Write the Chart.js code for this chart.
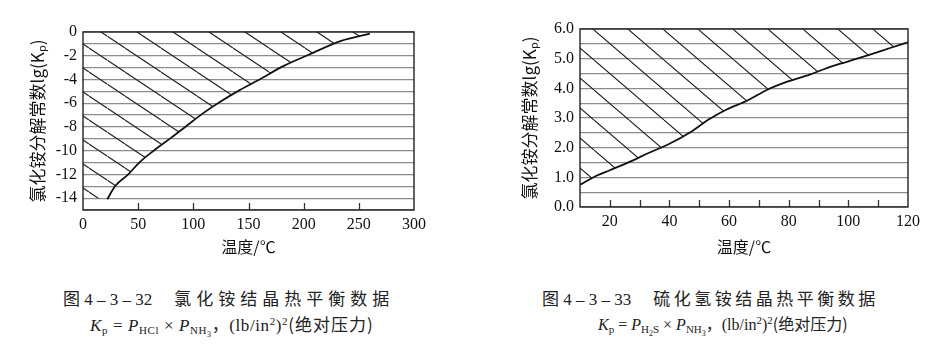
<!DOCTYPE html>
<html><head><meta charset="utf-8">
<script src="https://cdn.jsdelivr.net/npm/chart.js@4.4.0/dist/chart.umd.min.js"></script>
<style>
body{margin:0;background:#fff;width:951px;height:352px;position:relative;overflow:hidden}
.box{position:absolute;top:0}
.cap{position:absolute;white-space:nowrap;color:#222;font-family:"Liberation Serif","Noto Sans CJK SC",serif;line-height:1}
.cap sub{font-size:11px;vertical-align:-3px}
.cap sup{font-size:11px;vertical-align:6px}
.cj{font-family:"Noto Sans CJK SC",sans-serif}
</style></head><body>
<div class="box" style="left:0"><canvas id="c1" width="440" height="260"></canvas></div>
<div class="box" style="left:475px"><canvas id="c2" width="476" height="260"></canvas></div>
<div class="cap" style="left:63px;top:289px;font-size:17px">图 4 – 3 – 32<span class="cj" style="margin-left:22px;letter-spacing:5px">氯化铵结晶热平衡数据</span></div>
<div class="cap" style="left:90px;top:315px;font-size:17px;letter-spacing:0.6px"><i>K</i><sub>p</sub> = <i>P</i><sub>HCl</sub> × <i>P</i><sub>NH<sub style="font-size:8px">3</sub></sub><span class="cj">，</span>(lb/in<sup>2</sup>)<sup>2</sup><span class="cj" style="letter-spacing:1px">(绝对压力)</span></div>
<div class="cap" style="left:542px;top:289px;font-size:17px">图 4 – 3 – 33<span class="cj" style="margin-left:22px;letter-spacing:3.5px">硫化氢铵结晶热平衡数据</span></div>
<div class="cap" style="left:598px;top:315px;font-size:16px"><i>K</i><sub>p</sub> = <i>P</i><sub>H<sub style="font-size:8px">2</sub>S</sub> × <i>P</i><sub>NH<sub style="font-size:8px">3</sub></sub><span class="cj">，</span>(lb/in<sup>2</sup>)<sup>2</sup><span class="cj">(绝对压力)</span></div>
<script>
'use strict';

/* ═══════════ DATA ═══════════ */
// 图4-3-32 氯化铵: 温度/℃ vs lg(Kp)
var clT=[22,29,41,51,64,80,94,108,124,142,162,181,205,234,260];
var clK=[-14.1,-13,-12.0,-11.0,-10.0,-8.9,-7.9,-6.9,-5.9,-4.9,-3.9,-2.9,-1.9,-0.75,-0.14];
// hatched zone left of the curve start (along lg Kp = -14)
var clEdgeT=[0,22];
var clEdgeK=[-14,-14];
var xTicksL=[0,50,100,150,200,250,300];
var yTicksL=[0,-2,-4,-6,-8,-10,-12,-14];
var xMarksL=[50,100,150,200,250];

// 图4-3-33 硫化氢铵
var hsT=[10,15,20,27,33,40,47,53,59,66,73,80,87,93,100,107,114,120];
var hsK=[0.75,1.03,1.24,1.54,1.82,2.13,2.52,2.94,3.28,3.58,3.96,4.24,4.46,4.69,4.91,5.13,5.36,5.55];
var xTicksR=[20,40,60,80,100,120];
var yTicksR=[0,1,2,3,4,5,6];
var xMarksR=[20,30,40,50,60,70,80,90,100,110];

var yTitle='氯化铵分解常数lg(Kₚ)',xTitle='温度/℃';

/* ═══════════ HELPERS ═══════════ */
function gel(id){return document.getElementById(id)}
function pts(xs,ys){return xs.map(function(x,i){return{x:x,y:ys[i]}})}
/* diagonal hatch, w = horizontal spacing, h = vertical spacing, dx shifts the line phase */
function hatch(w,h,dx){var c=document.createElement('canvas');c.width=w;c.height=h;var g=c.getContext('2d');
  g.strokeStyle='#1e1e1e';g.lineWidth=1.1;
  [-w,0,w].forEach(function(o){g.beginPath();g.moveTo(o,0);g.lineTo(o+w,h);g.stroke()});
  var p=g.createPattern(c,'repeat');p.setTransform(new DOMMatrix().translate(dx,0));return p}
/* plot box + short inward marks on the temperature axis */
function mkFrame(marks){return{id:'frame',afterDraw:function(ch){var a=ch.chartArea,x=ch.ctx,sx=ch.scales.x;x.save();
  x.strokeStyle='#333';x.lineWidth=1.3;
  marks.forEach(function(v){var px=Math.round(sx.getPixelForValue(v))+0.5;
    x.beginPath();x.moveTo(px,a.bottom);x.lineTo(px,a.bottom-7);x.stroke()});
  x.strokeStyle='#222';x.lineWidth=1.4;x.strokeRect(a.left,a.top,a.right-a.left,a.bottom-a.top);x.restore()}}}
var SER="'Liberation Serif', serif",CJK="'Noto Sans CJK SC', sans-serif";

function mkChart(id,o){
  return new Chart(gel(id),{type:'line',
    data:{datasets:o.sets},
    options:{responsive:false,animation:false,events:[],
      layout:{padding:{top:o.top,right:o.right,left:0,bottom:0}},
      plugins:{legend:{display:false},tooltip:{enabled:false}},
      elements:{point:{radius:0},line:{cubicInterpolationMode:'monotone',borderColor:'#111',borderWidth:1.8}},
      scales:{
        x:{type:'linear',min:o.xMin,max:o.xMax,afterFit:function(s){s.height=o.xH},
          ticks:{stepSize:o.xStep,padding:5,color:'#111',font:{family:SER,size:16},maxRotation:0,autoSkip:false,
            callback:function(v){return o.xTicks.indexOf(v)>=0?String(v):''}},
          grid:{display:false,drawTicks:false},
          border:{display:false},
          title:{display:true,text:xTitle,color:'#111',font:{family:CJK,size:16},padding:{top:0,bottom:3}}},
        y:{type:'linear',min:o.yMin,max:o.yMax,afterFit:function(s){s.width=o.yW},
          ticks:{stepSize:o.yStep,padding:o.yPad,color:'#111',font:{family:SER,size:16},autoSkip:false,
            callback:function(v){return o.yTicks.indexOf(v)>=0?o.fmt(v):''}},
          grid:{color:'#8c8c8c',lineWidth:1.2,drawTicks:false},
          border:{display:false},
          title:{display:true,text:yTitle,color:'#111',font:{family:CJK,size:17},padding:{top:o.yTitlePad,bottom:0}}}}},
    plugins:[mkFrame(o.marks)]})}

/* ═══════════ CHARTS ═══════════ */
var patL=hatch(36,24,17),patR=hatch(35,30,14);
mkChart('c1',{top:32,right:26,xH:50,yW:83,yPad:6,yTitlePad:27,marks:xMarksL,
  xMin:0,xMax:300,xStep:50,xTicks:xTicksL,yMin:-15,yMax:0,yStep:1,yTicks:yTicksL,
  fmt:function(v){return String(v)},
  sets:[{data:pts(clT,clK),fill:'end',backgroundColor:patL},
        {data:pts(clEdgeT,clEdgeK),fill:'end',backgroundColor:patL,borderWidth:0}]});
mkChart('c2',{top:29,right:43,xH:53,yW:105,yPad:6,yTitlePad:44,marks:xMarksR,
  xMin:10,xMax:120,xStep:10,xTicks:xTicksR,yMin:0,yMax:6,yStep:0.5,yTicks:yTicksR,
  fmt:function(v){return v.toFixed(1)},
  sets:[{data:pts(hsT,hsK),fill:'end',backgroundColor:patR}]});
</script>
</body></html>
